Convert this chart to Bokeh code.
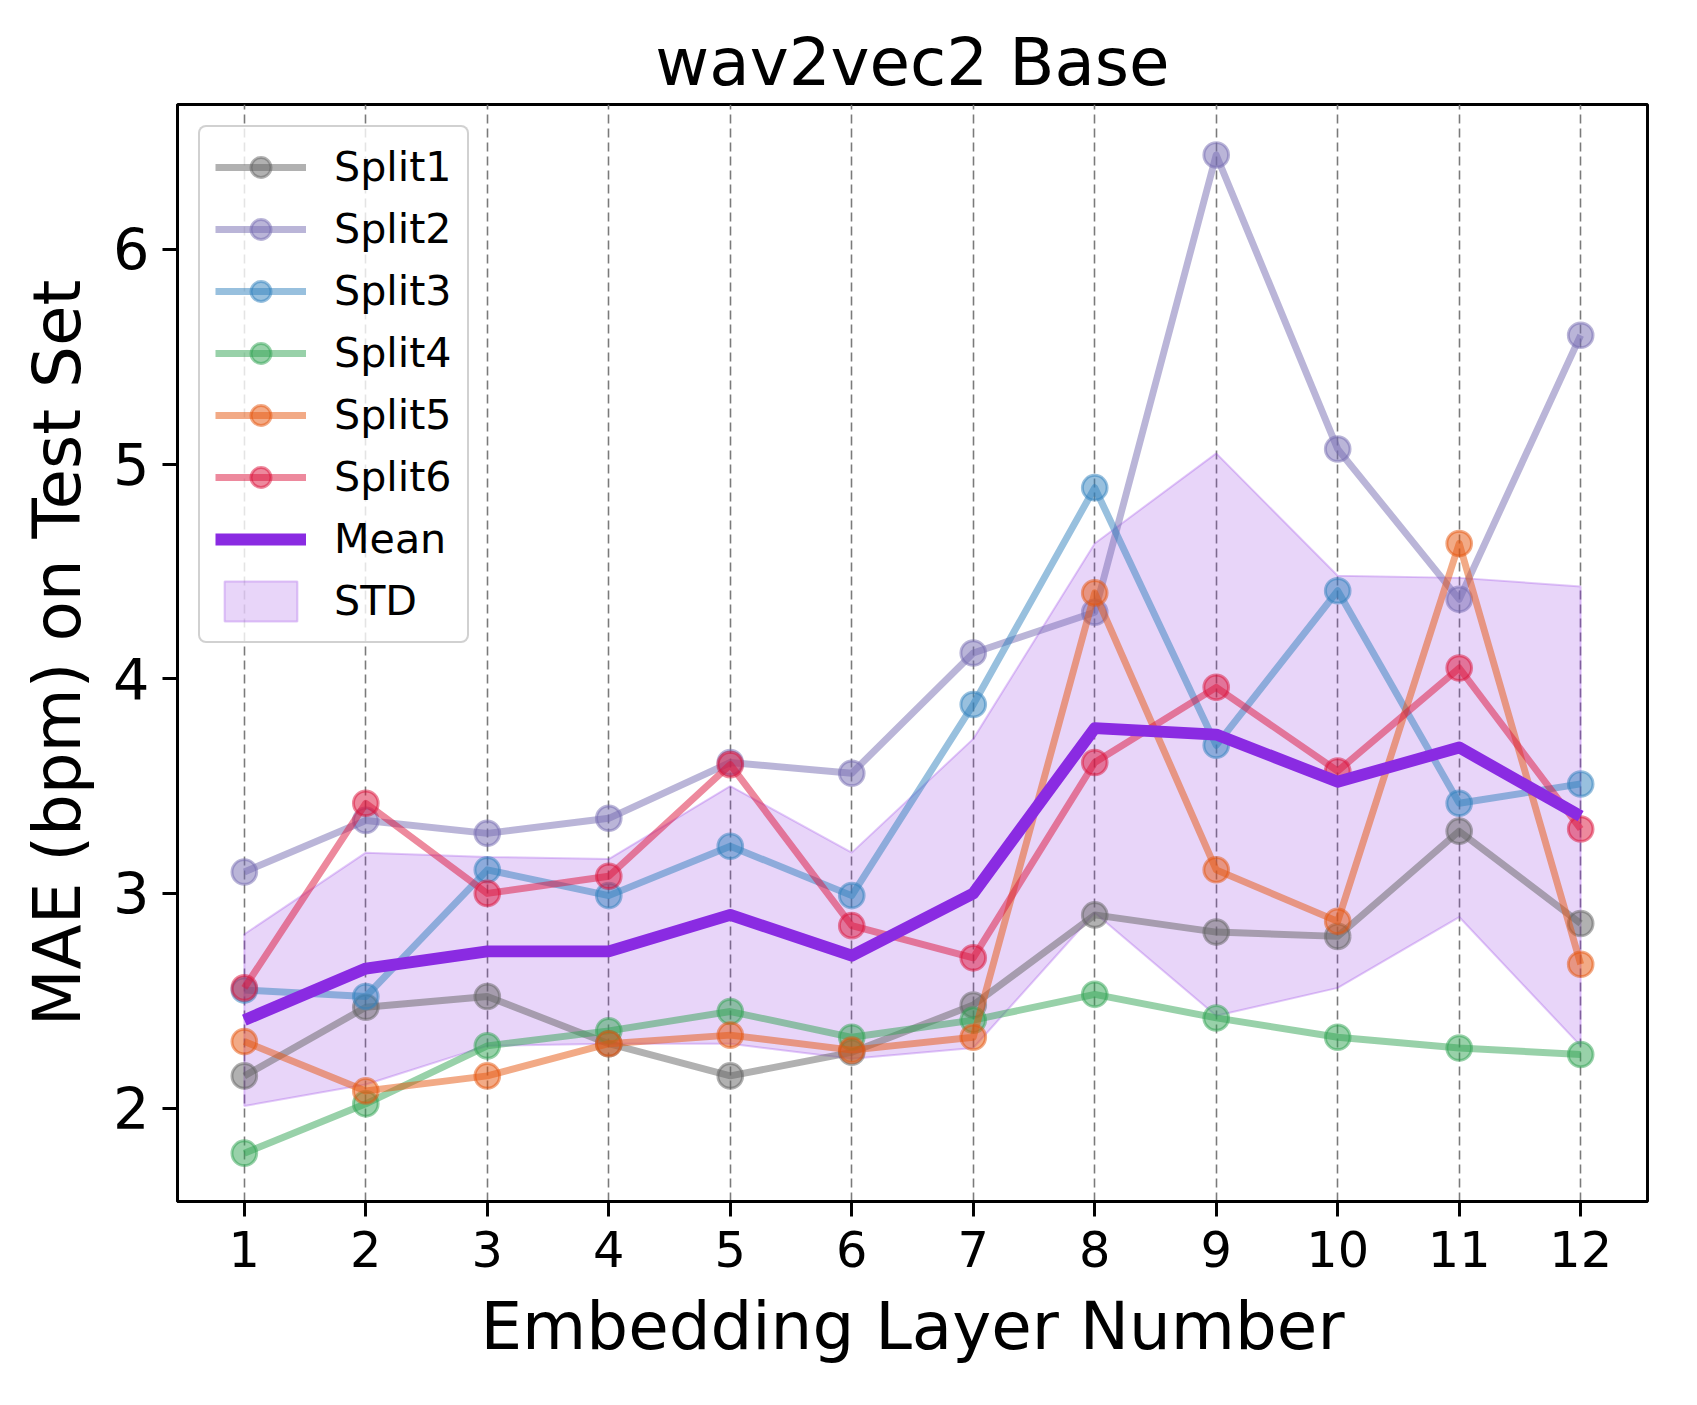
from bokeh.plotting import figure
from bokeh.models import Range1d, FixedTicker, Legend, LegendItem
from bokeh.embed import file_html
from bokeh.resources import INLINE

# ---- data ----
layers = [1, 2, 3, 4, 5, 6, 7, 8, 9, 10, 11, 12]
split1 = [2.15, 2.47, 2.52, 2.30, 2.15, 2.26, 2.48, 2.90, 2.82, 2.80, 3.29, 2.86]
split2 = [3.10, 3.34, 3.28, 3.35, 3.61, 3.56, 4.12, 4.31, 6.44, 5.07, 4.37, 5.60]
split3 = [2.55, 2.52, 3.11, 2.99, 3.22, 2.99, 3.88, 4.89, 3.69, 4.41, 3.42, 3.51]
split4 = [1.79, 2.02, 2.29, 2.36, 2.45, 2.33, 2.41, 2.53, 2.42, 2.33, 2.28, 2.25]
split5 = [2.31, 2.08, 2.15, 2.30, 2.34, 2.27, 2.33, 4.40, 3.11, 2.87, 4.63, 2.67]
split6 = [2.56, 3.42, 3.00, 3.08, 3.60, 2.85, 2.70, 3.61, 3.96, 3.57, 4.05, 3.30]
mean_vals = [2.41, 2.65, 2.73, 2.73, 2.90, 2.71, 3.00, 3.77, 3.74, 3.52, 3.68, 3.36]
std_vals = [0.40, 0.54, 0.44, 0.43, 0.60, 0.48, 0.72, 0.86, 1.31, 0.96, 0.79, 1.07]
series_names = ["Split1", "Split2", "Split3", "Split4", "Split5", "Split6"]
series_vals = [split1, split2, split3, split4, split5, split6]
colors = ["#636363", "#756bb1", "#3182bd", "#31a354", "#e6550d", "#dc143c"]
x_ticks = [1, 2, 3, 4, 5, 6, 7, 8, 9, 10, 11, 12]
y_ticks = [2, 3, 4, 5, 6]

S = 0.988
FONT = "DejaVu Sans"


def px(v):
    return f"{v * S:.1f}px"


W = round(1697 * S)
H = round(1405 * S)

p = figure(
    width=W, height=H,
    x_range=Range1d(0.45, 12.55), y_range=Range1d(1.565, 6.675),
    output_backend="svg", toolbar_location=None,
    title="wav2vec2 Base",
    min_border_left=round(178.7 * S),
    min_border_right=W - round(1667 * S),
    min_border_top=round(105 * S),
    min_border_bottom=H - round(1216 * S),
)
p.background_fill_color = "white"
p.border_fill_color = "white"
p.outline_line_color = "black"
p.outline_line_width = 3 * S
p.outline_line_alpha = 1.0

p.title.text_font = FONT
p.title.text_font_size = px(66.7)
p.title.text_font_style = "normal"
p.title.text_color = "black"
p.title.align = "center"
p.title.standoff = 8 * S

# axes
for ax in (p.xaxis[0], p.yaxis[0]):
    ax.axis_line_width = 3 * S
    ax.axis_line_color = "black"
    ax.major_tick_line_width = 3 * S
    ax.major_tick_line_color = "black"
    ax.major_tick_out = round(15 * S)
    ax.major_tick_in = 0
    ax.minor_tick_line_color = None
    ax.major_label_text_font = FONT
    ax.major_label_text_color = "black"
    ax.axis_label_text_font = FONT
    ax.axis_label_text_font_style = "normal"
    ax.axis_label_text_font_size = px(66.7)
    ax.axis_label_text_color = "black"

p.xaxis.ticker = FixedTicker(ticks=x_ticks)
p.yaxis.ticker = FixedTicker(ticks=y_ticks)
p.xaxis.major_label_text_font_size = px(50)
p.yaxis.major_label_text_font_size = px(58)
p.xaxis.major_label_standoff = round(14 * S)
p.yaxis.major_label_standoff = round(13 * S)
p.xaxis.axis_label = "Embedding Layer Number"
p.yaxis.axis_label = "MAE (bpm) on Test Set"
p.xaxis.axis_label_standoff = round(18 * S)
p.yaxis.axis_label_standoff = round(14 * S)

p.ygrid.visible = False
p.xgrid.grid_line_color = "#7a7a7a"
p.xgrid.grid_line_width = 1.6 * S
p.xgrid.grid_line_dash = "9 5"

# STD band (beneath everything)
upper = [m + s for m, s in zip(mean_vals, std_vals)]
lower = [m - s for m, s in zip(mean_vals, std_vals)]
band_x = layers + layers[::-1]
band_y = upper + lower[::-1]
band_r = p.patch(band_x, band_y, fill_color="#8a2be2", fill_alpha=0.2,
                 line_color="#8a2be2", line_alpha=0.25, line_width=2 * S)

items = []
for name, vals, col in zip(series_names, series_vals, colors):
    lr = p.line(layers, vals, line_color=col, line_alpha=0.5, line_width=7 * S,
                line_join="round")
    sr = p.scatter(layers, vals, size=25 * S, marker="circle", fill_color=col,
                   fill_alpha=0.5, line_color=col, line_alpha=0.5, line_width=3 * S)
    items.append(LegendItem(label=name, renderers=[lr, sr]))

mean_r = p.line(layers, mean_vals, line_color="#8a2be2", line_width=12 * S,
                line_join="round")
items.append(LegendItem(label="Mean", renderers=[mean_r]))
items.append(LegendItem(label="STD", renderers=[band_r]))

legend = Legend(items=items, location="top_left")
legend.margin = round(21 * S)
legend.padding = round(15 * S)
legend.spacing = round(12 * S)
legend.glyph_width = round(92 * S)
legend.glyph_height = round(51 * S)
legend.label_height = round(40 * S)
legend.label_standoff = round(28 * S)
legend.label_text_font = FONT
legend.label_text_font_size = px(41.7)
legend.label_text_color = "black"
legend.border_line_color = "#cccccc"
legend.border_line_width = 3 * S
legend.border_line_alpha = 0.9
legend.background_fill_color = "white"
legend.background_fill_alpha = 0.8
if "border_radius" in legend.properties():
    legend.border_radius = 8
p.add_layout(legend)

open("out.html", "w").write(file_html(p, INLINE))
